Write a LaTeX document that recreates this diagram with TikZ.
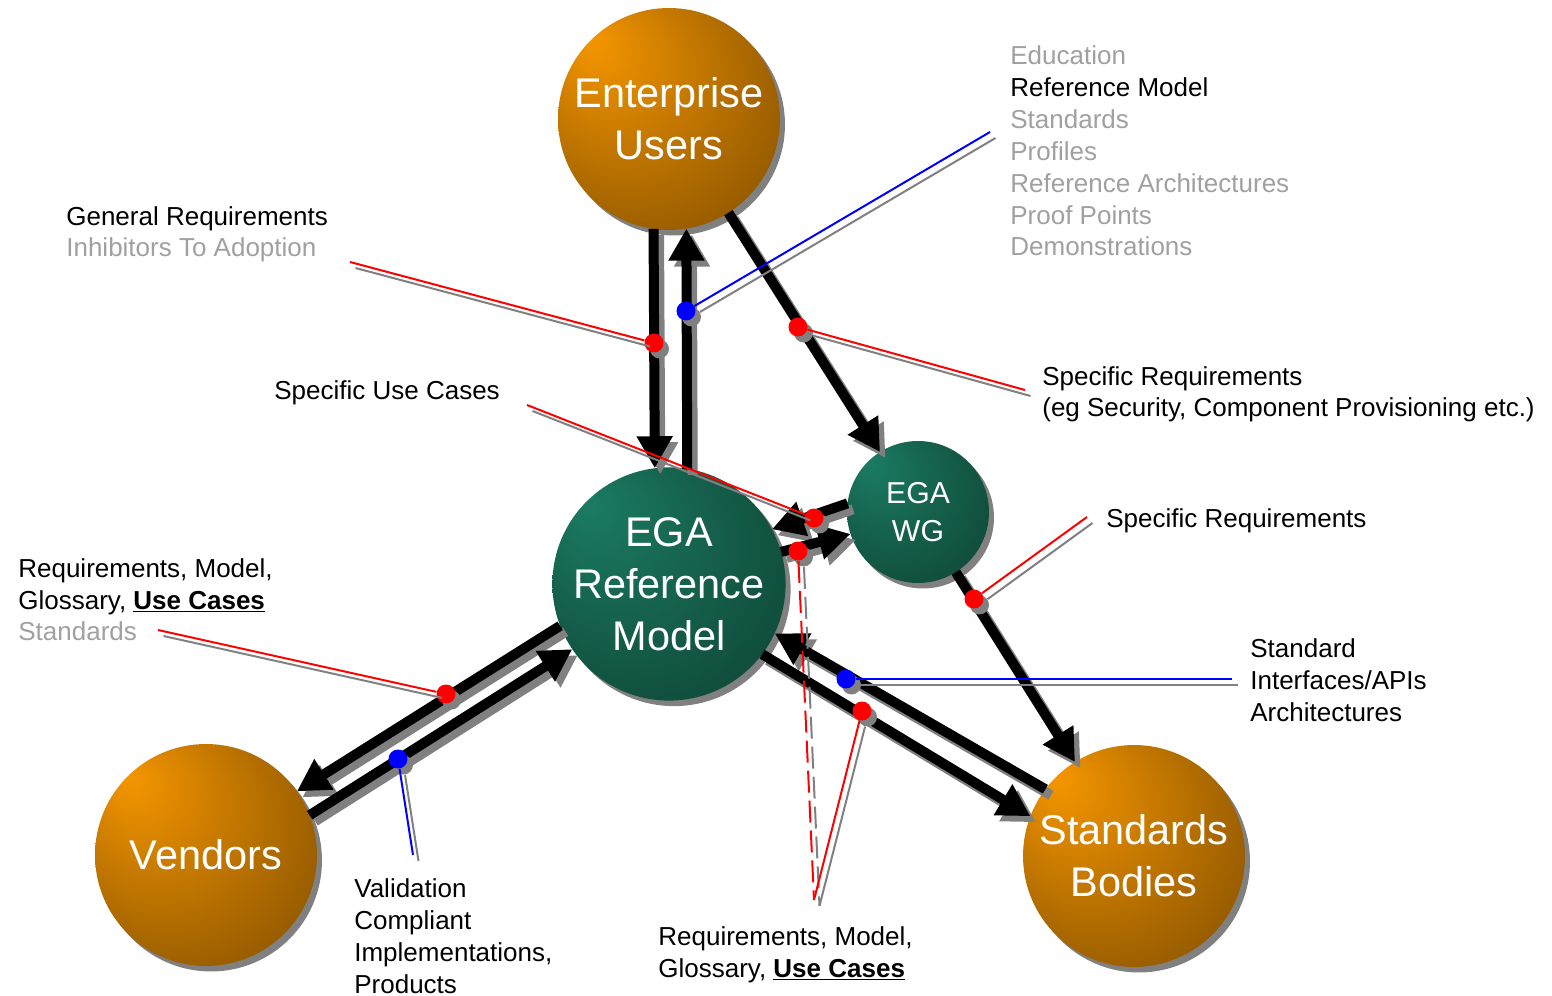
\documentclass[tikz,border=0pt]{standalone}
\usepackage{fontspec}
\setmainfont{Liberation Sans}
\usetikzlibrary{arrows.meta,shadows}

\definecolor{orangelight}{RGB}{245,150,0}
\definecolor{orangedark}{RGB}{110,67,0}
\definecolor{teallight}{RGB}{27,124,99}
\definecolor{tealdark}{RGB}{12,56,44}
\definecolor{shadowgray}{RGB}{128,128,128}
\definecolor{labelgray}{RGB}{160,160,160}

\pgfdeclareradialshading{orangeball}{\pgfpoint{-18bp}{18bp}}{color(0bp)=(orangelight); color(48bp)=(orangedark)}
\pgfdeclareradialshading{tealball}{\pgfpoint{-18bp}{18bp}}{color(0bp)=(teallight); color(48bp)=(tealdark)}

\newcommand{\ballfont}{\fontsize{23.6}{29.6}\selectfont}
\newcommand{\wgfont}{\fontsize{17.2}{21.6}\selectfont}
\newcommand{\remarkfont}{\fontsize{14.8}{18.2}\selectfont}

\tikzset{
  party/.style={circle, inner sep=0pt, outer sep=0pt, minimum size=4.44cm,
    shading=orangeball, text=white, align=center, font=\ballfont,
    drop shadow={shadow xshift=0.1cm, shadow yshift=-0.11cm, fill=shadowgray, opacity=1}},
  flow/.style={line width=0.2cm, -{Triangle[length=0.64cm, width=0.68cm]}},
  flowshade/.style={flow, shadowgray, transform canvas={xshift=0.11cm, yshift=-0.12cm}},
  reddot/.style={circle, fill=red, inner sep=0pt, minimum size=0.38cm,
    drop shadow={shadow xshift=0.11cm, shadow yshift=-0.12cm, fill=shadowgray, opacity=1}},
  bluedot/.style={reddot, fill=blue},
  redline/.style={red, line width=0.04cm},
  blueline/.style={blue, line width=0.04cm},
  lineshade/.style={shadowgray, transform canvas={xshift=0.11cm, yshift=-0.12cm}},
  remark/.style={anchor=base west, inner sep=0pt, align=left, font=\remarkfont}
}

% arrow with its shadow
\newcommand{\flowline}[2]{\draw[flowshade] #1 -- #2; \draw[flow] #1 -- #2;}
% callout line with its shadow
\newcommand{\callline}[3]{\draw[#1,lineshade] #2 -- #3; \draw[#1] #2 -- #3;}

\begin{document}
\begin{tikzpicture}[x=0.02cm, y=-0.02cm]
\useasboundingbox (0,0) rectangle (1552,996);

% parties
\node[party] (eu) at (669,119) {Enterprise\\Users};
\node[party, shading=tealball] (rm) at (669,584) {EGA\\Reference\\Model};
\node[party, shading=tealball, minimum size=2.84cm, font=\wgfont] (wg) at (918,512) {EGA\\WG};
\node[party] (ve) at (206,855) {Vendors};
\node[party] (sb) at (1134,856) {Standards\\Bodies};

% flows
\flowline{(eu.262)}{(rm.97)}
\flowline{(rm.81)}{(eu.279)}
\flowline{(eu)}{(wg)}
\flowline{(wg.173)}{(rm.28)}
\flowline{(rm.16)}{(wg.198)}
\flowline{(wg)}{(sb)}
\flowline{(sb.143)}{(rm.-25)}
\flowline{(rm.-37)}{(sb.159)}
\flowline{(rm.201)}{(ve.35)}
\flowline{(ve.21)}{(rm.214)}

% dots on the flows
\node[reddot] (g1) at (654,343) {};
\node[bluedot] (g2) at (686,311) {};
\node[reddot] (g3) at (798,327) {};
\node[reddot] (g4) at (814,518) {};
\node[reddot] (g5) at (798,551) {};
\node[reddot] (g6) at (974,599) {};
\node[bluedot] (g7) at (846,679) {};
\node[reddot] (g8) at (862,711) {};
\node[reddot] (g9) at (446,694) {};
\node[bluedot] (g10) at (398,759) {};

% labels (placed at the baseline of their last line)
\node[remark] (topics) at (1010,256) {\textcolor{labelgray}{Education}\\Reference Model\\\textcolor{labelgray}{Standards}\\\textcolor{labelgray}{Profiles}\\\textcolor{labelgray}{Reference Architectures}\\\textcolor{labelgray}{Proof Points}\\\textcolor{labelgray}{Demonstrations}};
\node[remark] (genreq) at (66,257) {General Requirements\\\textcolor{labelgray}{Inhibitors To Adoption}};
\node[remark] (specreq) at (1042,417) {Specific Requirements\\(eg Security, Component Provisioning etc.)};
\node[remark] (usecases) at (274,400) {Specific Use Cases};
\node[remark] (wgreq) at (1106,528) {Specific Requirements};
\node[remark] (vendorreq) at (18,641) {Requirements, Model,\\Glossary, \textbf{\underline{Use Cases}}\\\textcolor{labelgray}{Standards}};
\node[remark] (interfaces) at (1250,721) {Standard\\Interfaces/APIs\\Architectures};
\node[remark] (validation) at (354,993) {Validation\\Compliant\\Implementations,\\Products};
\node[remark] (bodyreq) at (658,977) {Requirements, Model,\\Glossary, \textbf{\underline{Use Cases}}};

% callouts
\coordinate (c1) at (350,262);
\coordinate (c2) at (990,132);
\coordinate (c3) at (1025,390);
\coordinate (c4) at (527,405);
\coordinate (c6) at (1087,517);
\coordinate (c7) at (1232,679);
\coordinate (c9) at (158,630);
\coordinate (c10) at (413,855);
\coordinate (vtip) at (814,900);
\callline{redline}{(c1)}{(g1)}
\callline{blueline}{(g2)}{(c2)}
\callline{redline}{(g3)}{(c3)}
\callline{redline}{(c4)}{(g4)}
\callline{redline, dash pattern=on 0.44cm off 0.16cm}{(g5)}{(vtip)}
\callline{redline}{(vtip)}{(g8)}
\callline{redline}{(g6)}{(c6)}
\callline{blueline}{(g7)}{(c7)}
\callline{redline}{(c9)}{(g9)}
\callline{blueline}{(g10)}{(c10)}
\end{tikzpicture}
\end{document}
